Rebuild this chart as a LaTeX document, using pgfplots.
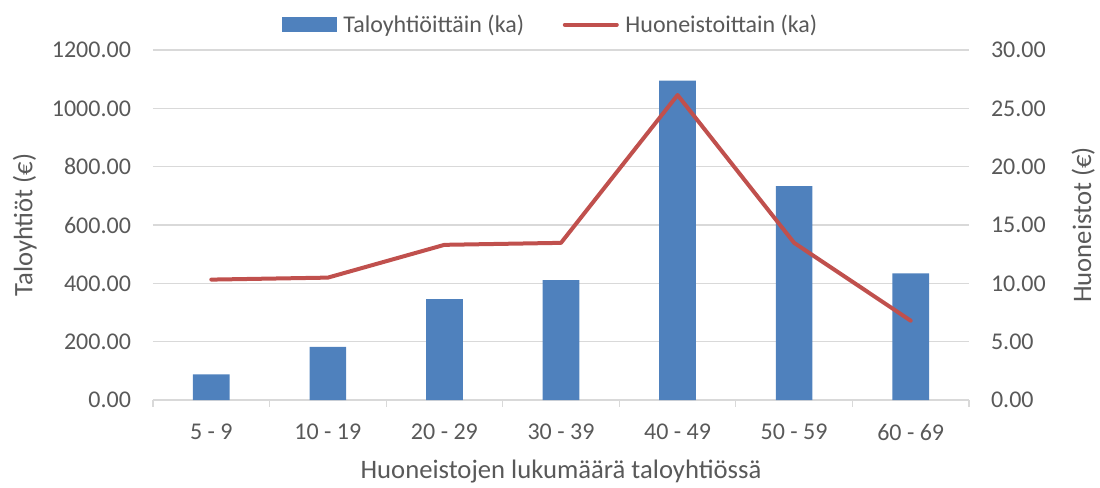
\documentclass[border=0pt]{standalone}
\usepackage{pgfplots}
\pgfplotsset{compat=1.18}
\usepackage{fontspec}
\setmainfont{Carlito}
\definecolor{barblue}{HTML}{4F81BD}
\definecolor{linered}{HTML}{C0504D}
\definecolor{gridgray}{HTML}{D9D9D9}
\definecolor{txtgray}{HTML}{595959}

% 1 px of the reference = 0.75pt
\pgfplotsset{
  base/.style={
    scale only axis,
    width=612pt, height=262.5pt,
    xmin=-0.5, xmax=6.5,
    font=\fontsize{18}{21}\selectfont\color{txtgray},
    label style={font=\fontsize{20}{24}\selectfont\color{txtgray}},
    /pgf/number format/assume math mode=true,
    /pgf/number format/fixed,
    /pgf/number format/fixed zerofill,
    /pgf/number format/precision=2,
    /pgf/number format/1000 sep={},
    ymin=0,
    major tick length=0pt,
  },
}

\begin{document}
\begin{tikzpicture}
\path[use as bounding box] (-114.75pt,-65.25pt) rectangle (710.25pt,300pt);

\begin{axis}[
  base,
  ymax=1200, ytick={0,200,...,1200},
  axis x line*=bottom, axis y line*=left,
  y axis line style={draw=none},
  x axis line style={draw=gridgray, line width=0.9pt},
  ymajorgrids, grid style={gridgray, line width=0.9pt},
  xtick={0,...,6},
  xticklabels={5 - 9,10 - 19,20 - 29,30 - 39,40 - 49,50 - 59,60 - 69},
  minor xtick={-0.5,0.5,...,6.5},
  minor tick length=5pt,
  tick align=outside,
  minor tick style={gridgray, line width=0.9pt},
  x tick label style={anchor=center, yshift=-24pt},
  y tick label style={anchor=east, xshift=-13pt},
  xlabel={Huoneistojen lukumäärä taloyhtiössä},
  x label style={at={(axis description cs:0.5,-0.205)}, anchor=center},
  ylabel={Taloyhtiöt (€)},
  y label style={at={(axis description cs:-0.157,0.5)}, anchor=center},
]
\addplot[ybar, bar width=27.5pt, fill=barblue, draw=none] coordinates {
  (0,88) (1,182) (2,346) (3,411) (4,1095) (5,733) (6,434)
};
\end{axis}

\begin{axis}[
  base,
  ymax=30, ytick={0,5,...,30},
  axis x line=none, axis y line*=right,
  y axis line style={draw=none},
  y tick label style={anchor=west, xshift=13pt},
  ylabel={Huoneistot (€)},
  y label style={at={(axis description cs:1.14,0.5)}, anchor=center},
  legend columns=2,
  legend style={draw=none, fill=none, at={(axis description cs:0.4875,1)}, anchor=center,
    yshift=19pt,
    /tikz/every odd column/.append style={column sep=3pt},
    /tikz/every even column/.append style={column sep=27pt},
    font=\fontsize{18}{21}\selectfont\color{txtgray}},
]
\addlegendimage{legend image code/.code={\fill[barblue] (0pt,-5.25pt) rectangle (41pt,5.25pt);}}
\addlegendentry{Taloyhtiöittäin (ka)}
\addplot[linered, line width=3pt, line cap=round, line join=round,
  legend image code/.code={\draw[linered, line width=3pt, line cap=round] (1pt,0pt) -- (40pt,0pt);}]
  coordinates {
  (0,10.32) (1,10.49) (2,13.3) (3,13.47) (4,26.14) (5,13.47) (6,6.8)
};
\addlegendentry{Huoneistoittain (ka)}
\end{axis}
\end{tikzpicture}
\end{document}
